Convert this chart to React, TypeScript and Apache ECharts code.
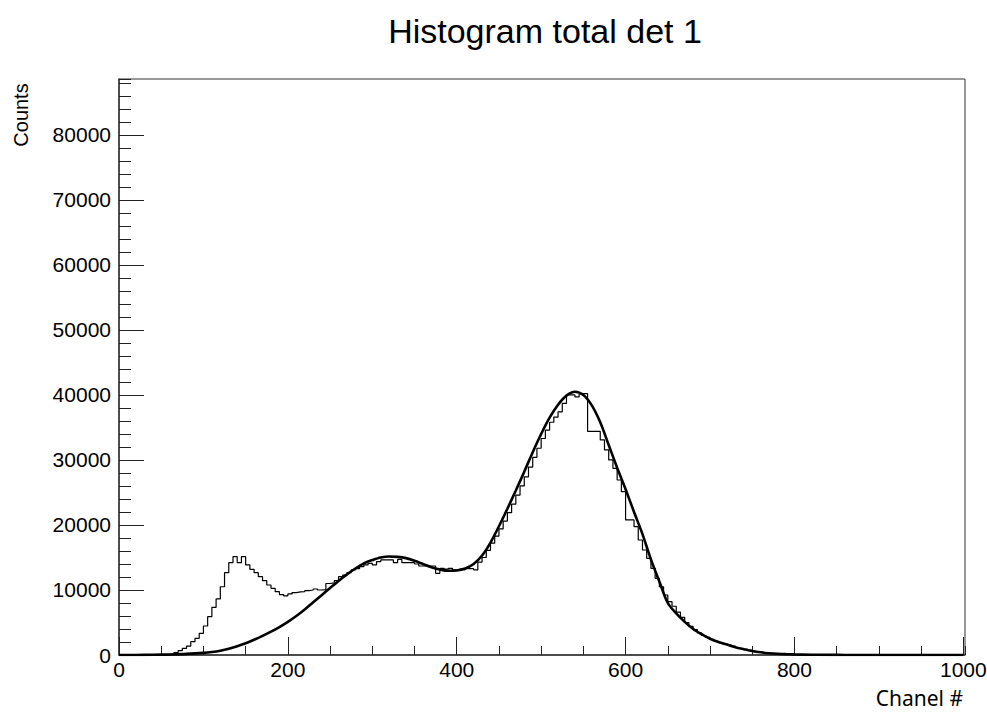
import React, { useEffect, useRef } from "react";
import * as echarts from "echarts";

// ---- Data ----
const BIN_START = 0;
const BIN_WIDTH = 5;
// Histogram counts per 5-channel bin, starting at channel 0
const histCounts: number[] = [
  // 0..95
  0, 0, 0, 0, 0, 0, 0, 0, 0, 0, 0, 30, 120, 350, 660, 1030, 1380, 2050, 2560, 3330,
  // 100..195
  4460, 5900, 7330, 8620, 10500, 12670, 14200, 15130, 14200, 15130, 13850, 13180, 12670, 12050, 11430, 10770, 10260, 9740, 9300, 9100,
  // 200..295
  9400, 9600, 9700, 9750, 9900, 10000, 10150, 10000, 10050, 11000, 11100, 11430, 12050, 12300, 12670, 13080, 13300, 13590, 13850, 14100,
  // 300..395
  13850, 14360, 14620, 14620, 14620, 14200, 14700, 14200, 14200, 14200, 14000, 13690, 13690, 13690, 13690, 12560, 13330, 13200, 13330, 13100,
  // 400..495
  13200, 13100, 13300, 13300, 13100, 14300, 15000, 16100, 17200, 18300, 19400, 20600, 21900, 23200, 24600, 26000, 27400, 28900, 30400, 31800,
  // 500..595
  33300, 34600, 35800, 36600, 37400, 38700, 40000, 40000, 39700, 40200, 40200, 34400, 34400, 34400, 33080, 31540, 30000, 28720, 26920, 25120,
  // 600..695
  20770, 20770, 19740, 17690, 16150, 14870, 13330, 11800, 10500, 9230, 8200, 7500, 6600, 5800, 5000, 4400, 3900, 3400, 3000, 2700,
  // 700..795
  2400, 2100, 1900, 1700, 1550, 1350, 1150, 1000, 850, 700, 580, 470, 380, 300, 240, 190, 150, 120, 90, 70,
  // 800..895
  55, 45, 35, 28, 22, 18, 14, 10, 8, 6, 5, 4, 3, 3, 2, 2, 1, 1, 1, 0,
  // 900..995
  0, 0, 0, 0, 0, 0, 0, 0, 0, 0, 0, 0, 0, 0, 0, 0, 0, 0, 0, 0,
];

// Fit curve
const fitX: number[] = [
  0, 20, 40, 60, 80, 100, 110, 120, 130, 140, 150, 160, 170, 180, 190, 200, 210, 220, 230, 240,
  250, 260, 270, 280, 290, 300, 310, 320, 330, 340, 350, 360, 370, 380, 390, 400, 410, 420, 430, 440,
  450, 460, 470, 480, 490, 500, 510, 520, 530, 540, 550, 560, 570, 580, 590, 600, 610, 620, 630, 640,
  650, 660, 670, 680, 690, 700, 710, 720, 730, 740, 750, 760, 770, 780, 790, 800, 820, 840, 860, 880,
  900, 950, 1000,
];
const fitY: number[] = [
  0, 10, 35, 85, 170, 320, 450, 650, 950, 1350, 1800, 2350, 2950, 3600, 4300, 5100, 6000, 7000, 8100, 9200,
  10300, 11400, 12400, 13300, 14100, 14600, 15000, 15150, 15100, 14900, 14500, 14000, 13500, 13150, 12950, 13000, 13300, 14000, 15300, 17300,
  19800, 22500, 25300, 28200, 31200, 34000, 36500, 38500, 39900, 40500, 40000, 38400, 35800, 32300, 28800, 25500, 22000, 18600, 14700, 11300,
  8000, 6400, 5100, 4000, 3200, 2500, 2000, 1600, 1200, 900, 620, 420, 280, 190, 130, 90, 45, 20, 10, 5,
  3, 1, 0,
];

const X_MIN = 0;
const X_MAX = 1002;
const Y_MIN = 0;
const Y_MAX = 88600;

const TITLE = "Histogram total det 1";
const X_TITLE = "Chanel #";
const Y_TITLE = "Counts";

export default function App() {
  const ref = useRef<HTMLDivElement>(null);
  useEffect(() => {
    if (!ref.current) return;
    const chart = echarts.init(ref.current, null, { renderer: "svg" });

    const histData: number[][] = histCounts.map((v, i) => [BIN_START + i * BIN_WIDTH, v]);
    histData.push([BIN_START + histCounts.length * BIN_WIDTH, 0]);
    const fitData: number[][] = fitX.map((x, i) => [x, fitY[i]]);

    const font = "Liberation Sans, Arial, sans-serif";
    const axisColor = "#333";
    const plain = (v: number) => String(Math.round(v));

    const baseX = {
      type: "value" as const,
      min: X_MIN,
      max: X_MAX,
      position: "bottom" as const,
      splitLine: { show: false },
    };
    const baseY = {
      type: "value" as const,
      min: Y_MIN,
      max: Y_MAX,
      position: "left" as const,
      splitLine: { show: false },
    };

    chart.setOption({
      animation: false,
      backgroundColor: "#fff",
      grid: {
        left: 119,
        right: 22,
        top: 79,
        bottom: 57,
        containLabel: false,
        outerBoundsMode: "none",
        show: true,
        borderColor: "#333",
        borderWidth: 1,
        backgroundColor: "transparent",
      },
      xAxis: [
        {
          ...baseX,
          interval: 50,
          axisLine: { show: true, onZero: false, lineStyle: { color: axisColor, width: 1.5 } },
          axisTick: { show: true, inside: true, length: 9, lineStyle: { color: "#222", width: 1 } },
          axisLabel: { show: false },
        },
        {
          ...baseX,
          interval: 200,
          axisLine: { show: false, onZero: false },
          axisTick: { show: true, inside: true, length: 18, lineStyle: { color: "#222", width: 1 } },
          axisLabel: {
            show: true,
            showMaxLabel: false,
            margin: 4,
            color: "#000",
            fontSize: 21,
            fontFamily: font,
            formatter: plain,
          },
        },
      ],
      yAxis: [
        {
          ...baseY,
          interval: 2000,
          axisLine: { show: true, onZero: false, lineStyle: { color: axisColor, width: 1.5 } },
          axisTick: { show: true, inside: true, length: 12, lineStyle: { color: "#222", width: 1 } },
          axisLabel: { show: false },
        },
        {
          ...baseY,
          interval: 10000,
          axisLine: { show: false, onZero: false },
          axisTick: { show: true, inside: true, length: 25, lineStyle: { color: "#222", width: 1 } },
          axisLabel: {
            show: true,
            showMaxLabel: false,
            margin: 8,
            color: "#000",
            fontSize: 21,
            fontFamily: font,
            formatter: plain,
          },
        },
      ],
      series: [
        {
          type: "line",
          name: "hist",
          xAxisIndex: 0,
          yAxisIndex: 0,
          step: "end",
          showSymbol: false,
          symbol: "none",
          data: histData,
          lineStyle: { color: "#000", width: 1.2 },
          silent: true,
          z: 2,
        },
        {
          type: "line",
          name: "fit",
          xAxisIndex: 0,
          yAxisIndex: 0,
          smooth: 0.3,
          showSymbol: false,
          symbol: "none",
          data: fitData,
          lineStyle: { color: "#000", width: 2.6 },
          silent: true,
          z: 3,
        },
      ],
      graphic: [
        {
          type: "text",
          x: 545,
          y: 31,
          style: {
            text: TITLE,
            fill: "#000",
            font: `34px ${font}`,
            textAlign: "center",
            textVerticalAlign: "middle",
          },
        },
        {
          type: "text",
          x: 21,
          y: 115,
          rotation: Math.PI / 2,
          style: {
            text: Y_TITLE,
            fill: "#000",
            font: `20px ${font}`,
            textAlign: "center",
            textVerticalAlign: "middle",
          },
        },
        {
          type: "text",
          x: 963,
          y: 698,
          style: {
            text: X_TITLE,
            fill: "#000",
            font: `21px "Noto Sans", "Open Sans", sans-serif`,
            textAlign: "right",
            textVerticalAlign: "middle",
          },
        },
      ],
    });

    return () => {
      chart.dispose();
    };
  }, []);

  return (
    <div
      ref={ref}
      style={{ position: "fixed", left: 0, top: 0, width: 987, height: 712, background: "#fff" }}
    />
  );
}
